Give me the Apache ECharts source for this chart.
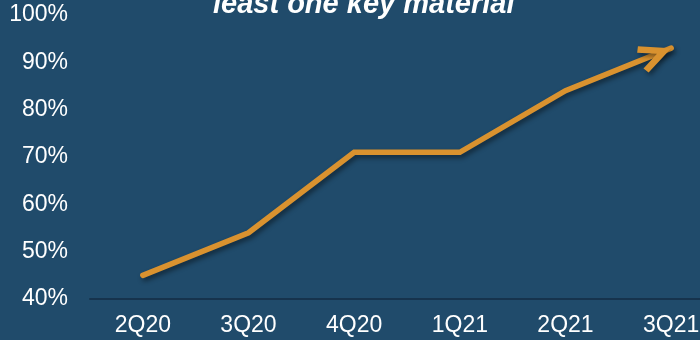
<!DOCTYPE html>
<html><head><meta charset="utf-8">
<script src="https://cdn.jsdelivr.net/npm/echarts@6/dist/echarts.min.js"></script>
<style>html,body{margin:0;padding:0;background:#204B6B}#c{width:700px;height:340px}</style>
</head><body><div id="c"></div>
<script>
var categories = ['2Q20','3Q20','4Q20','1Q21','2Q21','3Q21'];
var values = [45, 54, 71, 71, 84, 93];
var yTicks = [40, 50, 60, 70, 80, 90, 100];
var titleText = 'least one key material';

var chart = echarts.init(document.getElementById('c'));
var font = 'Liberation Sans, Arial, sans-serif';
var orange = '#D9922F';
// chevron arrowhead, tip at (0,0) pointing +x
var chevron = 'path://M0,0 L-30.06,-15.41 L-33.26,-9.19 L-15.32,0 L-33.26,9.19 L-30.06,15.41 Z';
var symW = 33.26, symH = 30.82;
function build(rot){
  var r = rot * Math.PI / 180;
  var off = [-symW / 2 * Math.cos(r), symW / 2 * Math.sin(r)];
  return {
    backgroundColor: '#204B6B',
    animation: false,
    title: {
      text: titleText, left: 208, top: -15,
      textStyle: {color:'#fff', fontSize: 29, fontWeight:'bold', fontStyle:'italic', fontFamily: font}
    },
    grid: {left: 90, right: -24, top: 15, bottom: 41, outerBoundsMode: 'none', containLabel: false},
    xAxis: {
      type: 'category', data: categories, boundaryGap: true,
      axisLine: {lineStyle: {color: '#16334D', width: 2}},
      axisTick: {show: false},
      axisLabel: {color: '#fff', fontSize: 23, fontFamily: font, margin: 15}
    },
    yAxis: {
      type: 'value', min: yTicks[0], max: yTicks[yTicks.length-1], interval: 10,
      axisLine: {show: false}, axisTick: {show: false}, splitLine: {show: false},
      axisLabel: {color: '#fff', fontSize: 23, fontFamily: font, margin: 22, formatter: '{value}%'}
    },
    series: [{
      type: 'line', data: values.map(function(v,i){
        if (i === values.length-1) return {value: v, symbol: chevron, symbolSize: [symW, symH],
          symbolRotate: rot, symbolOffset: off, symbolKeepAspect: true,
          itemStyle:{color: orange, borderWidth: 0, shadowColor:'rgba(0,0,0,0.45)', shadowBlur:5, shadowOffsetX:2, shadowOffsetY:3}};
        return {value: v, symbol: 'none'};
      }),
      showSymbol: true,
      lineStyle: {color: orange, width: 5.5, cap: 'round', join: 'miter',
        shadowColor: 'rgba(0,0,0,0.45)', shadowBlur: 5, shadowOffsetX: 2, shadowOffsetY: 3}
    }]
  };
}
chart.setOption(build(0));
var n = values.length;
var p1 = chart.convertToPixel({gridIndex:0}, [categories[n-2], values[n-2]]);
var p2 = chart.convertToPixel({gridIndex:0}, [categories[n-1], values[n-1]]);
var ang = Math.atan2(p1[1]-p2[1], p2[0]-p1[0]) * 180 / Math.PI;
chart.setOption(build(ang));
</script></body></html>
